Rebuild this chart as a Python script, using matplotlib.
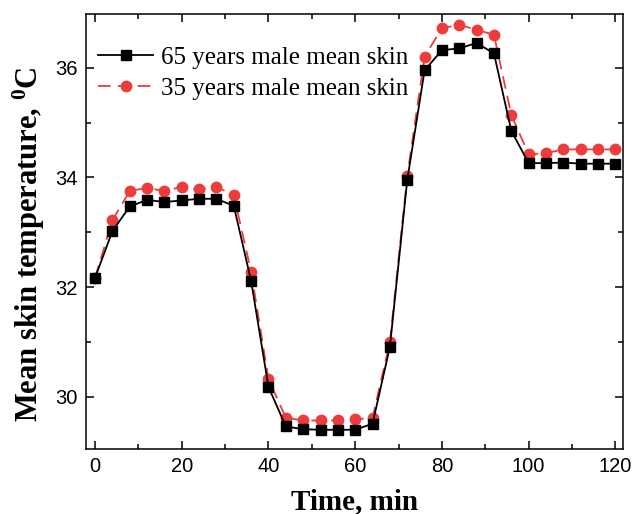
import matplotlib
matplotlib.use("Agg")
import matplotlib.pyplot as plt
from matplotlib.ticker import MultipleLocator

plt.rcParams["mathtext.fontset"] = "custom"
plt.rcParams["mathtext.rm"] = "Liberation Serif"
plt.rcParams["mathtext.bf"] = "Liberation Serif:bold"

time_min = list(range(0, 121, 4))

male_65 = [32.17, 33.02, 33.47, 33.59, 33.55, 33.58, 33.61, 33.61, 33.48, 32.11,
           30.18, 29.46, 29.41, 29.40, 29.40, 29.40, 29.51, 30.91, 33.95, 35.95,
           36.32, 36.35, 36.45, 36.26, 34.85, 34.26, 34.26, 34.27, 34.25, 34.25,
           34.25]

male_35 = [32.17, 33.22, 33.75, 33.81, 33.75, 33.83, 33.78, 33.83, 33.67, 32.28,
           30.32, 29.62, 29.57, 29.57, 29.57, 29.59, 29.62, 31.00, 34.02, 36.20,
           36.72, 36.78, 36.69, 36.60, 35.14, 34.42, 34.44, 34.51, 34.51, 34.51,
           34.51]

labels = ["65 years male mean skin", "35 years male mean skin"]

fig = plt.figure(figsize=(6.32, 5.14), dpi=100)
ax = fig.add_axes([0.136, 0.1265, 0.850, 0.8465])

ax.plot(time_min, male_65, color="black", lw=1.3, marker="s", ms=6.5,
        label=labels[0], zorder=3)
ax.plot(time_min, male_35, color="#EE3B3B", lw=1.3, ls=(0, (7, 4)), marker="o",
        ms=7.5, label=labels[1], zorder=2)

ax.set_xlim(-2.1, 121.8)
ax.set_ylim(29.05, 36.98)
ax.xaxis.set_major_locator(MultipleLocator(20))
ax.xaxis.set_minor_locator(MultipleLocator(10))
ax.yaxis.set_major_locator(MultipleLocator(2))
ax.yaxis.set_minor_locator(MultipleLocator(1))

ax.tick_params(which="both", direction="in", top=True, right=True,
               labeltop=False, labelright=False, width=1.1)
ax.tick_params(which="major", length=6, labelsize=14.5, pad=6)
ax.tick_params(which="minor", length=3.5)
for lab in ax.get_xticklabels() + ax.get_yticklabels():
    lab.set_family("Liberation Sans")
for sp in ax.spines.values():
    sp.set_linewidth(1.1)

ax.set_xlabel("Time, min", family="Liberation Serif", weight="bold",
              fontsize=21, labelpad=8.5)
ax.set_ylabel(r"Mean skin temperature, $\mathbf{^0}$C", family="Liberation Serif",
              weight="bold", fontsize=22, labelpad=6, y=0.471)

leg = ax.legend(loc="upper left", frameon=False, handlelength=2.2,
                prop={"family": "Liberation Serif", "size": 18},
                labelspacing=0.34, handletextpad=0.3,
                bbox_to_anchor=(-0.005, 0.96), borderaxespad=0.2)

fig.savefig("out.png", dpi=100)
